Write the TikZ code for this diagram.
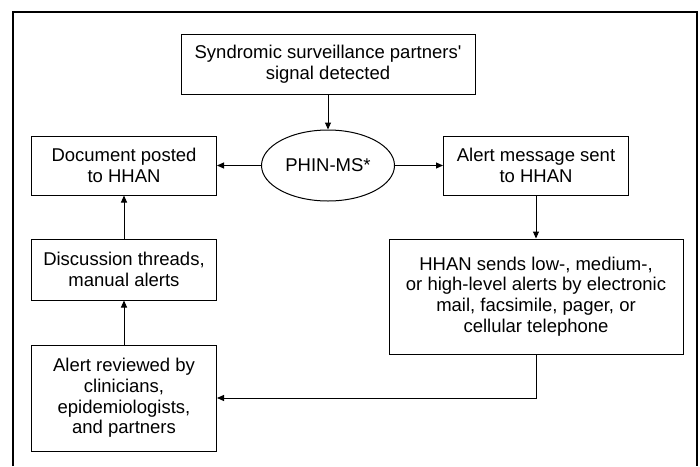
\documentclass[tikz,border=0pt]{standalone}
\usepackage{fontspec}
\setmainfont{Liberation Sans}
\usetikzlibrary{positioning,arrows.meta,shapes.geometric}

\begin{document}
\begin{tikzpicture}[
      x=1pt, y=1pt,
      font=\fontsize{9.25}{10.4}\selectfont,
      box/.style={rectangle, draw, line width=0.5pt, minimum width=92.5pt,
                  minimum height=29.5pt, align=center, inner sep=2pt},
      wide/.style={box, minimum width=147pt},
      hub/.style={ellipse, draw, line width=0.5pt, minimum width=66.5pt,
                  minimum height=35.5pt, inner sep=1pt},
      arrow/.style={-{Triangle[length=3.5pt,width=3pt]}, line width=0.5pt}
    ]
    \useasboundingbox (0,0) rectangle (350,-233);
    \draw[line width=1pt] (6.5,-233) |- (348.5,-6) -- (348.5,-233);

    \node[wide, minimum height=30pt] (signal) at (164,-32) {Syndromic surveillance partners\textquotesingle\\signal detected};
    \node[hub, below=17.5pt of signal] (phin) {PHIN-MS*};
    \node[box, left=22pt of phin] (posted) {Document posted\\to HHAN};
    \node[box, right=24pt of phin] (sent) {Alert message sent\\to HHAN};
    \node[box, below=21.5pt of posted, minimum height=30.5pt] (threads) {Discussion threads,\\manual alerts};
    \node[box, below=22pt of threads, minimum height=53pt] (reviewed) {Alert reviewed by\\clinicians,\\epidemiologists,\\and partners};
    \node[wide, below=21.5pt of sent, minimum height=57.5pt] (sends) {HHAN sends low-, medium-,\\or high-level alerts by electronic\\mail, facsimile, pager, or\\cellular telephone};

    \draw[arrow] (signal) -- (phin);
    \draw[arrow] (phin) -- (posted);
    \draw[arrow] (phin) -- (sent);
    \draw[arrow] (sent) -- (sends);
    \draw[arrow] (sends.south) |- (reviewed.east);
    \draw[arrow] (reviewed) -- (threads);
    \draw[arrow] (threads) -- (posted);
  \end{tikzpicture}
\end{document}
